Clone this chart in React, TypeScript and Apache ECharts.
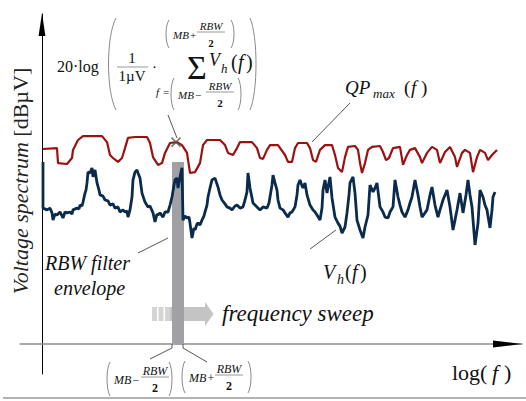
import React, { useEffect, useRef } from "react";
import * as echarts from "echarts";

// x: log(f) in arbitrary units, y: level in dBµV (arbitrary units)
const qpMax: [number, number][] = [
  [0.2, 65.0], [3.0, 65.3], [3.2, 60.3], [5.0, 60.0], [6.0, 62.0], [6.2, 64.7], [7.2, 68.0], [8.2, 69.3],
  [12.0, 69.3], [13.0, 67.3], [13.6, 63.0], [14.2, 62.0], [15.2, 60.7], [16.0, 62.0], [16.6, 65.3], [17.2, 68.7],
  [18.6, 69.0], [21.0, 69.0], [21.6, 67.0], [22.2, 62.3], [23.2, 59.7], [24.0, 60.3], [24.6, 63.7], [25.6, 67.0],
  [27.0, 67.3], [28.0, 66.3], [29.0, 63.7], [29.6, 57.0], [30.6, 57.3], [31.6, 60.3], [32.2, 66.3], [33.0, 68.0],
  [35.6, 68.0], [36.6, 66.3], [37.2, 63.7], [38.2, 63.0], [39.0, 65.3], [39.6, 67.3], [42.0, 67.3], [43.0, 65.3],
  [43.6, 62.0], [44.2, 61.7], [45.0, 64.7], [45.6, 66.3], [47.2, 66.3], [48.6, 63.0], [49.2, 60.7], [50.0, 60.7],
  [50.6, 65.3], [51.2, 67.0], [53.0, 67.0], [53.6, 65.3], [54.2, 61.3], [54.8, 60.7], [55.6, 64.7], [56.6, 66.3],
  [58.0, 66.3], [58.6, 63.0], [59.2, 58.7], [60.0, 57.3], [60.6, 62.3], [61.2, 65.7], [62.6, 66.0], [63.2, 64.7],
  [63.6, 60.3], [64.0, 57.0], [64.6, 60.3], [65.2, 64.7], [66.0, 65.7], [67.6, 66.0], [68.2, 64.0], [68.8, 61.3],
  [69.4, 62.0], [70.2, 65.3], [71.6, 65.7], [72.2, 59.7], [73.0, 63.0], [73.6, 64.7], [74.6, 65.3], [75.6, 62.3],
  [76.0, 60.3], [77.0, 63.7], [78.0, 65.7], [79.0, 64.7], [79.6, 60.3], [80.6, 64.0], [81.6, 65.7], [82.6, 62.3],
  [83.0, 59.0], [84.0, 63.7], [84.6, 64.7], [85.6, 63.7], [86.2, 57.3], [87.0, 62.3], [87.6, 64.7], [88.6, 63.7],
  [89.2, 61.3], [90.0, 63.0], [91.0, 64.7],
];

const vh: [number, number][] = [
  [0.2, 60.7], [0.2, 45.3], [1.0, 44.7], [1.6, 45.3], [2.0, 43.7], [2.2, 41.3], [2.6, 43.3], [3.0, 43.0],
  [3.6, 44.0], [4.0, 42.7], [4.2, 42.0], [4.6, 44.0], [5.0, 43.7], [5.6, 44.0], [6.0, 43.3], [6.2, 44.7],
  [7.0, 45.3], [7.4, 45.0], [7.6, 46.3], [8.0, 46.0], [8.2, 47.3], [8.6, 50.3], [8.8, 51.3], [9.0, 53.7],
  [9.2, 57.3], [9.6, 57.0], [10.0, 58.7], [10.2, 55.7], [10.6, 58.0], [11.0, 53.7], [11.4, 51.3], [11.6, 49.7],
  [12.2, 49.3], [12.6, 48.0], [13.2, 47.7], [13.6, 46.3], [14.2, 46.7], [14.6, 45.3], [15.2, 45.7], [15.6, 44.0],
  [16.2, 44.7], [16.6, 44.0], [17.0, 44.3], [17.2, 42.3], [17.6, 44.7], [18.0, 49.0], [18.2, 54.7], [18.6, 57.3],
  [19.0, 58.0], [19.2, 57.0], [19.6, 55.3], [20.0, 50.3], [20.6, 47.3], [21.2, 45.7], [21.6, 46.0], [22.2, 43.7],
  [22.6, 40.7], [23.0, 43.3], [23.2, 43.0], [23.6, 43.7], [24.2, 42.3], [24.6, 44.0], [25.2, 44.0], [25.6, 46.3],
  [26.0, 49.0], [26.4, 53.0], [26.6, 54.7], [27.0, 55.3], [27.2, 52.0], [27.6, 55.7], [28.0, 58.7], [28.2, 41.3],
  [28.6, 42.7], [29.0, 42.0], [29.4, 42.3], [29.6, 40.3], [30.0, 35.3], [30.4, 38.7], [30.6, 38.0], [31.0, 40.0],
  [31.2, 40.3], [31.6, 39.7], [32.0, 41.3], [32.4, 42.7], [32.6, 44.0], [33.0, 46.3], [33.2, 49.0], [33.6, 52.0],
  [34.0, 54.7], [34.6, 55.3], [35.2, 52.3], [35.6, 49.7], [36.0, 48.0], [36.6, 46.7], [37.0, 45.7], [37.6, 45.3],
  [38.0, 44.7], [38.6, 46.0], [39.0, 46.3], [39.6, 45.3], [40.2, 45.7], [40.6, 48.0], [41.0, 50.7], [41.2, 57.0],
  [41.6, 52.0], [42.0, 48.7], [42.2, 47.0], [42.8, 46.0], [43.6, 44.7], [44.2, 45.7], [45.0, 45.3], [45.4, 47.0],
  [45.6, 49.0], [46.0, 53.0], [46.2, 56.3], [46.6, 53.7], [47.0, 51.3], [47.2, 48.0], [47.6, 45.3], [48.2, 44.7],
  [48.6, 43.7], [49.2, 42.3], [49.6, 43.7], [50.0, 44.0], [50.6, 45.7], [51.0, 49.7], [51.2, 53.0], [51.6, 54.7],
  [52.0, 52.7], [52.2, 52.0], [52.6, 53.7], [53.0, 49.7], [53.6, 46.3], [54.2, 44.7], [54.6, 44.0], [55.0, 43.0],
  [55.6, 41.3], [56.0, 45.3], [56.2, 51.3], [56.6, 54.7], [57.0, 50.3], [57.2, 52.3], [57.6, 55.7], [58.0, 48.7],
  [58.6, 42.3], [59.2, 40.3], [59.6, 39.3], [60.0, 37.0], [60.6, 39.0], [61.0, 43.7], [61.4, 49.7], [61.6, 53.7],
  [62.2, 55.7], [62.6, 50.3], [63.0, 41.3], [63.6, 38.0], [64.2, 35.3], [64.6, 39.0], [65.2, 43.0], [65.6, 53.0],
  [66.2, 50.7], [66.6, 52.0], [67.0, 53.7], [67.6, 45.7], [68.2, 44.0], [68.6, 42.3], [69.2, 42.0], [69.6, 44.0],
  [70.2, 45.7], [70.6, 54.7], [71.2, 49.0], [71.6, 46.3], [72.0, 44.0], [72.6, 42.3], [73.2, 44.7], [73.6, 47.0],
  [74.0, 49.0], [74.6, 54.7], [75.2, 49.7], [75.6, 45.7], [76.0, 42.3], [76.6, 43.7], [77.0, 44.7], [77.6, 49.7],
  [78.0, 52.3], [78.6, 46.3], [79.2, 42.3], [79.6, 44.7], [80.2, 48.0], [81.0, 51.3], [81.6, 45.7], [82.2, 38.0],
  [82.6, 41.3], [83.0, 44.7], [83.6, 50.3], [84.2, 43.7], [84.8, 49.7], [85.2, 54.7], [85.6, 49.7], [86.0, 45.7],
  [86.6, 33.0], [87.2, 40.3], [87.6, 51.3], [88.2, 49.0], [88.6, 46.3], [89.0, 44.7], [89.6, 38.7], [90.0, 44.7],
  [90.2, 49.0], [90.6, 50.7],
];

// RBW filter envelope: [MB - RBW/2, MB + RBW/2] and its height
const rbwBand: [number, number] = [26.0, 28.4];
const rbwTop = 60.7;
// point where the QP_max curve is evaluated
const crossPoint: [number, number] = [26.8, 67.3];

const SERIF = "Liberation Serif, serif";

type El = Record<string, unknown>;

function txt(
  text: string, x: number, y: number, size: number,
  o: { italic?: boolean; bold?: boolean; align?: string; color?: string } = {}
): El {
  return {
    type: "text", x, y, z: 10, silent: true,
    style: {
      text,
      fontFamily: SERIF,
      fontSize: size,
      fontStyle: o.italic ? "italic" : "normal",
      fontWeight: o.bold ? "bold" : "normal",
      fill: o.color ?? "#111",
      textAlign: o.align ?? "left",
      textVerticalAlign: "middle",
    },
  };
}
function seg(x1: number, y1: number, x2: number, y2: number, color = "#555", w = 1): El {
  return { type: "line", z: 9, silent: true, shape: { x1, y1, x2, y2 }, style: { stroke: color, lineWidth: w } };
}
function paren(x: number, y1: number, y2: number, off: number): El {
  return {
    type: "bezierCurve", z: 9, silent: true,
    shape: { x1: x, y1, x2: x, y2, cpx1: x - off, cpy1: y1 + (y2 - y1) * 0.2, cpx2: x - off, cpy2: y1 + (y2 - y1) * 0.8 },
    style: { stroke: "#8a8a8a", fill: "none", lineWidth: 1 },
  };
}
// "(MB± RBW/2)" block
function limit(x0: number, x1: number, yTop: number, yBot: number, sign: string, size: number, fx: number): El[] {
  const yMid = (yTop + yBot) / 2;
  return [
    paren(x0, yTop, yBot, 4),
    paren(x1, yTop, yBot, -4),
    txt("MB", x0 + 4, yMid + 1, size, { italic: true }),
    txt(sign, x0 + 4 + size * 1.55, yMid + 1, size),
    txt("RBW", fx, yMid - 8, size, { italic: true, align: "center" }),
    seg(fx - 14, yMid - 2, fx + 14, yMid - 2, "#999", 1),
    txt("2", fx, yMid + 9, size, { bold: true, align: "center" }),
  ];
}

export default function App() {
  const ref = useRef<HTMLDivElement>(null);
  useEffect(() => {
    if (!ref.current) return;
    const chart = echarts.init(ref.current, undefined, { renderer: "svg" });

    const graphics: El[] = [
      // axis arrows
      { type: "polygon", z: 6, silent: true, shape: { points: [[493, 340.5], [522, 344], [493, 347.5]] }, style: { fill: "#000" } },
      { type: "polygon", z: 6, silent: true, shape: { points: [[42, 13], [38.6, 36], [45.4, 36]] }, style: { fill: "#000" } },
      seg(3, 398, 526, 398, "#9a9a9a", 1.5),
      // frequency sweep arrow
      { type: "rect", z: 1, silent: true, shape: { x: 152, y: 307, width: 5, height: 14 }, style: { fill: "#d4d4d4" } },
      { type: "rect", z: 1, silent: true, shape: { x: 158.5, y: 307, width: 5, height: 14 }, style: { fill: "#d4d4d4" } },
      { type: "rect", z: 1, silent: true, shape: { x: 165, y: 307, width: 5, height: 14 }, style: { fill: "#d4d4d4" } },
      { type: "rect", z: 1, silent: true, shape: { x: 170, y: 307, width: 36, height: 14 }, style: { fill: "#c4c4c4" } },
      { type: "polygon", z: 1, silent: true, shape: { points: [[205, 302], [213.5, 314], [205, 326]] }, style: { fill: "#c4c4c4" } },
      txt("frequency sweep", 222, 313, 23, { italic: true }),
      // y axis title
      {
        type: "text", x: 20, y: 181, rotation: Math.PI / 2, z: 10, silent: true,
        style: {
          text: "{a|Voltage spectrum} {b|[dBµV]}",
          rich: {
            a: { fontStyle: "italic", fontSize: 22, fontFamily: SERIF, fill: "#222" },
            b: { fontSize: 22, fontFamily: SERIF, fill: "#222" },
          },
          fontFamily: SERIF,
          fontSize: 22,
          textAlign: "center",
          textVerticalAlign: "middle",
        },
      },
      // x axis title
      txt("log(", 452, 372, 22),
      txt("f", 492, 372, 22, { italic: true }),
      txt(")", 504, 372, 22),
      // RBW filter envelope label
      txt("RBW filter", 45, 263, 20, { italic: true }),
      txt("envelope", 54, 288, 20, { italic: true }),
      seg(138, 253, 168, 238),
      // Vh label
      txt("V", 323, 272, 20, { italic: true }),
      txt("h", 337, 279, 14, { italic: true }),
      txt("(", 345, 272, 20),
      txt("f", 352, 272, 20, { italic: true }),
      txt(")", 360, 272, 20),
      seg(310, 249, 336, 230),
      // QPmax label
      txt("QP", 345, 87, 19, { italic: true }),
      txt("max", 373, 93, 13, { italic: true }),
      txt("(", 404, 87, 19),
      txt("f", 411, 87, 19, { italic: true }),
      txt(")", 421, 87, 19),
      seg(350, 103, 312, 142),
      // formula
      txt("20·log", 57, 66, 16),
      paren(116, 18, 110, 10),
      paren(250, 18, 110, -8),
      txt("1", 132, 58, 15, { align: "center" }),
      seg(117, 67, 148, 67, "#999", 1),
      txt("1µV", 132, 76, 15, { align: "center" }),
      txt("·", 152, 67, 15),
      txt("Σ", 197, 67, 34, { align: "center" }),
      txt("V", 209, 60, 18, { italic: true }),
      txt("h", 221, 68, 13, { italic: true }),
      txt("(", 231, 62, 20),
      txt("f", 238, 62, 20, { italic: true }),
      txt(")", 246, 62, 20),
      ...limit(169, 231, 20, 48, "+", 11, 211),
      txt("f", 156, 92, 11, { italic: true }),
      txt("=", 163, 92, 11),
      ...limit(174, 238, 78, 110, "−", 11, 220),
      seg(168, 115, 177, 138),
      // band edge labels
      seg(172, 344, 172, 348), seg(172, 348, 150, 359),
      seg(183, 344, 183, 348), seg(183, 348, 207, 362),
      ...limit(110, 169, 362, 396, "−", 12, 155),
      ...limit(185, 248, 361, 393, "+", 12, 229),
    ];

    chart.setOption({
      animation: false,
      grid: { left: 20, right: 4, top: 14, bottom: 27 },
      xAxis: {
        type: "value", min: -4.4, max: 96,
        axisLine: { show: true, onZero: true, lineStyle: { color: "#8c8c8c", width: 1.5 } },
        axisTick: { show: false }, axisLabel: { show: false }, splitLine: { show: false },
      },
      yAxis: {
        type: "value", min: -10, max: 110,
        axisLine: { show: true, onZero: true, lineStyle: { color: "#000", width: 1 } },
        axisTick: { show: false }, axisLabel: { show: false }, splitLine: { show: false },
      },
      series: [
        {
          type: "custom", z: 2, silent: true,
          data: [[rbwBand[0], rbwBand[1], rbwTop]],
          encode: { x: [0, 1], y: 2 },
          renderItem: (_p: unknown, api: any) => {
            const a = api.coord([api.value(0), 0]);
            const b = api.coord([api.value(1), api.value(2)]);
            return { type: "rect", shape: { x: a[0], y: b[1], width: b[0] - a[0], height: a[1] - b[1] }, style: { fill: "#a1a1a5" } };
          },
        },
        {
          type: "line", z: 3, data: qpMax, showSymbol: false, silent: true,
          lineStyle: { color: "#9b1111", width: 2.2 },
        },
        {
          type: "line", z: 4, data: vh, showSymbol: false, silent: true,
          lineStyle: { color: "#0b2b4c", width: 2.8 },
        },
        {
          type: "scatter", z: 5, data: [crossPoint], silent: true,
          symbol: "path://M0,0L10,10M10,0L0,10", symbolSize: 9,
          itemStyle: { color: "transparent", borderColor: "#555", borderWidth: 1.6 },
        },
      ],
      graphic: { elements: graphics },
    });
    return () => chart.dispose();
  }, []);
  return <div ref={ref} style={{ position: "absolute", left: 0, top: 0, width: 526, height: 401 }} />;
}
